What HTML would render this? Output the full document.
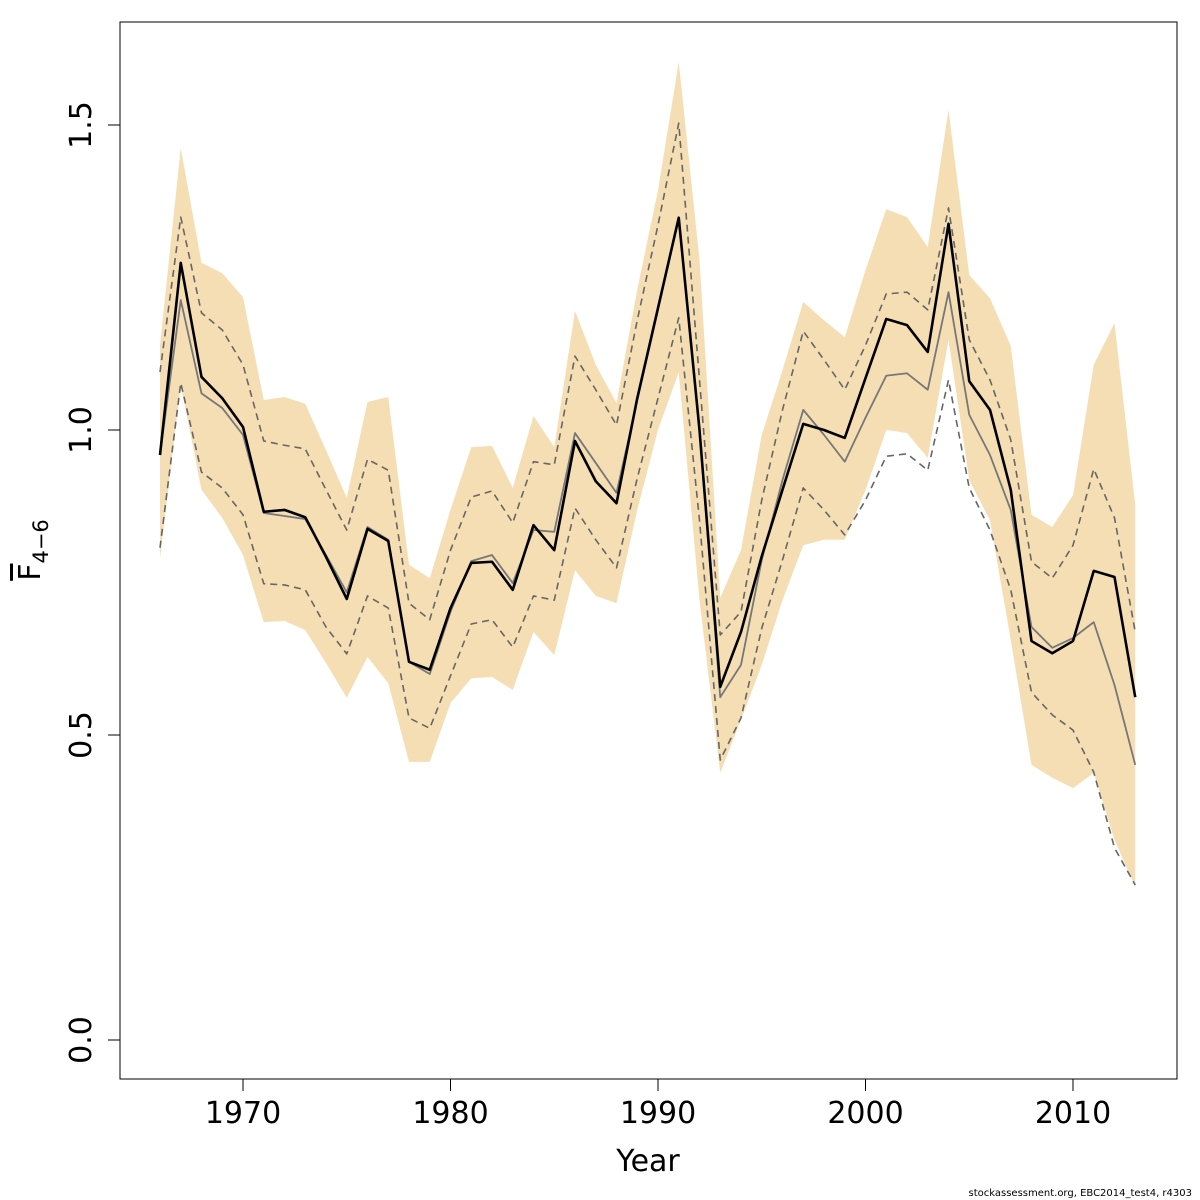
<!DOCTYPE html>
<html><head><meta charset="utf-8"><style>
html,body{margin:0;padding:0;background:#fff;}
svg{display:block;font-family:"DejaVu Sans","Liberation Sans",sans-serif;}
</style></head><body>
<svg id="chart" width="1200" height="1200" viewBox="0 0 1200 1200" xmlns="http://www.w3.org/2000/svg">
<rect x="0" y="0" width="1200" height="1200" fill="#fff"/>
<g id="plot"></g>
<rect x="120" y="22" width="1057" height="1057" fill="none" stroke="#000" stroke-width="1"/>
<g id="axes"></g>
<text x="648" y="1171" font-size="30" text-anchor="middle">Year</text>
<text transform="translate(40,550) rotate(-90)" font-size="30" text-anchor="middle"><tspan text-decoration="overline">F</tspan><tspan font-size="21" dy="8">4−6</tspan></text>
<text x="1192" y="1196" font-size="10" text-anchor="end">stockassessment.org, EBC2014_test4, r4303</text>
</svg>
<script>
const years = [1966,1967,1968,1969,1970,1971,1972,1973,1974,1975,1976,1977,1978,1979,1980,1981,1982,1983,1984,1985,1986,1987,1988,1989,1990,1991,1992,1993,1994,1995,1996,1997,1998,1999,2000,2001,2002,2003,2004,2005,2006,2007,2008,2009,2010,2011,2012,2013];
const fbar = [0.959,1.274,1.087,1.052,1.005,0.866,0.869,0.857,0.792,0.723,0.838,0.818,0.620,0.607,0.708,0.782,0.784,0.738,0.844,0.803,0.982,0.916,0.880,1.052,1.200,1.348,1.000,0.579,0.669,0.793,0.902,1.010,1.000,0.987,1.085,1.182,1.172,1.128,1.338,1.080,1.033,0.902,0.654,0.634,0.654,0.769,0.759,0.562];
const fbarAlt = [0.959,1.213,1.060,1.036,0.992,0.864,0.859,0.854,0.795,0.734,0.841,0.820,0.620,0.600,0.702,0.785,0.795,0.749,0.836,0.833,0.995,0.946,0.897,1.049,1.197,1.348,1.000,0.562,0.615,0.787,0.918,1.033,0.992,0.948,1.020,1.089,1.093,1.066,1.226,1.025,0.959,0.869,0.677,0.643,0.659,0.685,0.582,0.451];
const altHigh = [1.095,1.349,1.192,1.164,1.107,0.982,0.975,0.969,0.902,0.836,0.952,0.934,0.716,0.689,0.803,0.890,0.900,0.848,0.948,0.943,1.121,1.066,1.008,1.180,1.336,1.503,1.082,0.664,0.702,0.885,1.033,1.162,1.115,1.066,1.139,1.223,1.226,1.197,1.364,1.148,1.082,0.984,0.784,0.757,0.811,0.936,0.856,0.669];
const altLow = [0.807,1.077,0.931,0.905,0.861,0.748,0.746,0.738,0.677,0.633,0.728,0.708,0.528,0.511,0.597,0.682,0.689,0.644,0.728,0.721,0.872,0.820,0.774,0.921,1.052,1.184,0.852,0.459,0.528,0.675,0.787,0.905,0.869,0.828,0.885,0.957,0.961,0.934,1.082,0.905,0.836,0.738,0.570,0.533,0.508,0.439,0.315,0.254];
const bandHigh = [1.139,1.462,1.274,1.257,1.218,1.049,1.054,1.043,0.967,0.889,1.046,1.054,0.779,0.757,0.869,0.972,0.974,0.905,1.023,0.972,1.195,1.107,1.044,1.230,1.393,1.603,1.279,0.725,0.803,0.992,1.098,1.210,1.180,1.152,1.262,1.362,1.349,1.300,1.525,1.254,1.216,1.138,0.861,0.841,0.893,1.107,1.175,0.877];
const bandLow = [0.790,1.074,0.902,0.856,0.795,0.685,0.687,0.672,0.618,0.561,0.628,0.585,0.456,0.456,0.552,0.593,0.595,0.574,0.669,0.631,0.770,0.728,0.716,0.869,1.000,1.095,0.721,0.438,0.525,0.615,0.721,0.811,0.820,0.820,0.902,1.000,0.995,0.954,1.148,0.918,0.852,0.656,0.451,0.430,0.413,0.438,0.328,0.251];
const xTicks = [1970,1980,1990,2000,2010];
const yTicks = [0.0,0.5,1.0,1.5];
const yTickLabels = ["0.0","0.5","1.0","1.5"];

const NS = "http://www.w3.org/2000/svg";
function xs(y){ return 243 + (y-1970)*20.75; }
function ys(v){ return 1040 - v*610; }
function mk(tag, attrs, parent){ const e=document.createElementNS(NS,tag); for(const k in attrs) e.setAttribute(k,attrs[k]); parent.appendChild(e); return e; }
const plot=document.getElementById('plot');
const axes=document.getElementById('axes');

let d = years.map((y,i)=>(i?'L':'M')+xs(y)+','+ys(bandHigh[i])).join('');
for(let i=years.length-1;i>=0;i--) d+='L'+xs(years[i])+','+ys(bandLow[i]);
const band = mk('path',{d:d+'Z',fill:'#f5deb3',stroke:'none'},plot);



function line(arr, stroke, w, dash, name){
  const p = mk('path',{d:years.map((y,i)=>(i?'L':'M')+xs(y)+','+ys(arr[i])).join(''),fill:'none',stroke:stroke,'stroke-width':w,'stroke-linejoin':'round'},plot);
  if(dash) p.setAttribute('stroke-dasharray',dash);
  
  
}
line(altHigh,'#666',1.6,'7,5','alt-upper-dashed-line');
line(altLow,'#666',1.6,'7,5','alt-lower-dashed-line');
line(fbarAlt,'#777',1.8,null,'alt-estimate-line');
line(fbar,'#000',2.6,null,'fbar-estimate-line');

xTicks.forEach(t=>{
  const tk = mk('line',{x1:xs(t),x2:xs(t),y1:1079,y2:1091,stroke:'#000'},axes);
  
  
  const tx = mk('text',{x:xs(t),y:1123,'font-size':30,'text-anchor':'middle'},axes);
  tx.textContent=t;
  
  
});
yTicks.forEach((t,i)=>{
  const tk = mk('line',{x1:108,x2:120,y1:ys(t),y2:ys(t),stroke:'#000'},axes);
  
  
  const tx = mk('text',{transform:'translate(91,'+ys(t)+') rotate(-90)','font-size':30,'text-anchor':'middle'},axes);
  tx.textContent=yTickLabels[i];
  
  
});
</script>
</body></html>
